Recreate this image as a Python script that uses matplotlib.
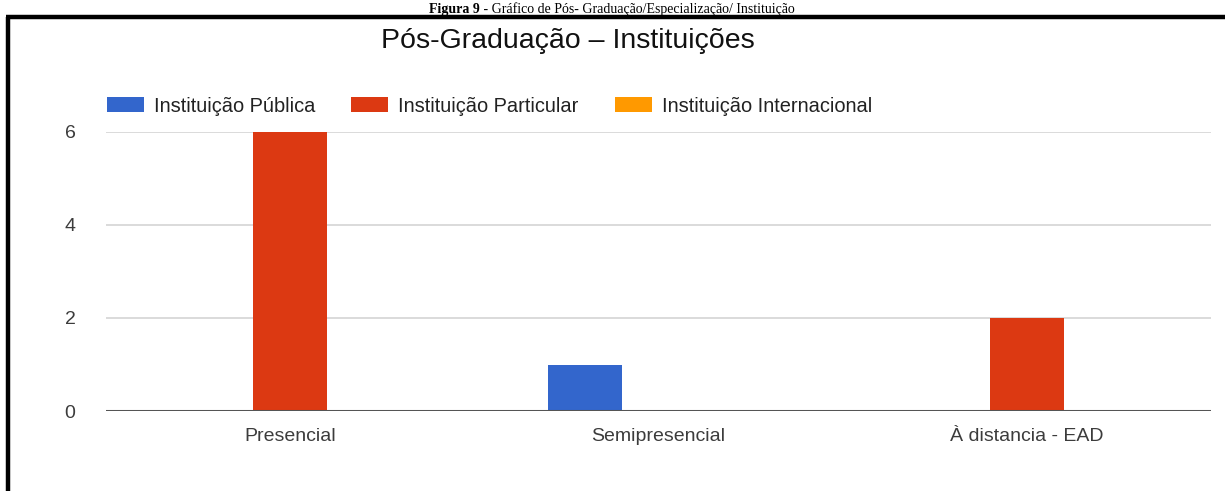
import matplotlib
matplotlib.use("Agg")
import matplotlib.pyplot as plt
from matplotlib.patches import Patch
from matplotlib.lines import Line2D
import numpy as np

categories = ["Presencial", "Semipresencial", "À distancia - EAD"]
series_names = ["Instituição Pública", "Instituição Particular", "Instituição Internacional"]
publica = [0, 1, 0]
particular = [6, 0, 2]
internacional = [0, 0, 0]
yticks = [0, 2, 4, 6]
colors = ["#3366CC", "#DC3912", "#FF9900"]
caption_bold = "Figura 9"
caption_rest = " - Gráfico de Pós- Graduação/Especialização/ Instituição"

W, H = 1225, 491
plt.rcParams["font.family"] = ["Liberation Sans", "DejaVu Sans"]
fig = plt.figure(figsize=(W / 100, H / 100), dpi=100)
fig.patch.set_facecolor("white")

ax = fig.add_axes([106 / W, 1 - 411 / H, (1211 - 106) / W, (411 - 132) / H])
x = np.arange(len(categories))
bw = 0.2
for i, (vals, col) in enumerate(zip([publica, particular, internacional], colors)):
    ax.bar(x + (i - 1) * bw, vals, width=bw, color=col, zorder=3, label=series_names[i])

ax.set_xlim(-0.5, 2.5)
ax.set_ylim(0, 6)
ax.set_yticks(yticks)
ax.set_xticks(x)
ax.set_xticklabels(categories)
ax.grid(axis="y", color="#d4d4d4", linewidth=1.2, zorder=0)
ax.axhline(0, color="#555555", linewidth=2.2, zorder=4)
for s in ax.spines.values():
    s.set_visible(False)
ax.tick_params(axis="both", length=0, labelsize=14, colors="#3c3c3c")
ax.tick_params(axis="y", pad=22)
ax.tick_params(axis="x", pad=12)

# Title
fig.text(568 / W, 1 - 41 / H, "Pós-Graduação – Instituições", ha="center", va="center",
         fontsize=20.5, color="#111111")

# Legend
handles = [Patch(facecolor=c, edgecolor="none") for c in colors]
fig.legend(handles, series_names, loc="center left", bbox_to_anchor=(107 / W, 1 - 106 / H),
           ncol=3, frameon=False, fontsize=14.4, handlelength=1.85, handleheight=0.72,
           handletextpad=0.5, columnspacing=1.8, borderpad=0, borderaxespad=0,
           labelcolor="#222222")

# Frame (left and top borders)
frame_y = 1 - 17 / H
fig.add_artist(Line2D([8 / W, 8 / W], [0, frame_y], transform=fig.transFigure,
                      color="black", linewidth=3.2, solid_capstyle="butt"))
fig.add_artist(Line2D([6 / W, 1], [frame_y, frame_y], transform=fig.transFigure,
                      color="black", linewidth=3.2, solid_capstyle="butt", zorder=5))

# Caption above the frame (bold figure number + regular text)
serif = ["Liberation Serif", "DejaVu Serif"]
cap_y = 1 - 13.5 / H
tb = fig.text(0, cap_y, caption_bold, ha="left", va="baseline", fontsize=10,
              fontweight="bold", family=serif, color="black", zorder=1)
tr = fig.text(0, cap_y, caption_rest, ha="left", va="baseline", fontsize=10,
              family=serif, color="black", zorder=1)
fig.canvas.draw()
r = fig.canvas.get_renderer()
wb = tb.get_window_extent(r).width
wr = tr.get_window_extent(r).width
x0 = 612 - (wb + wr) / 2
tb.set_x(x0 / W)
tr.set_x((x0 + wb) / W)

fig.savefig("out.png", dpi=100, facecolor="white")
